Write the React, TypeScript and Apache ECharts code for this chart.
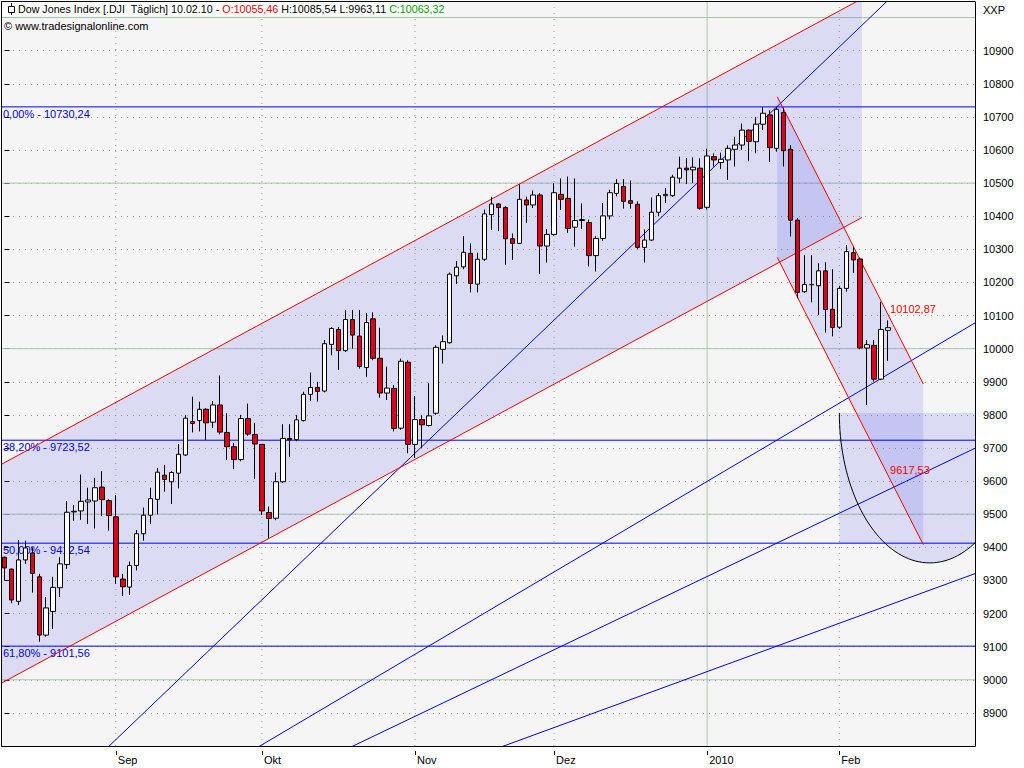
import React, { useEffect, useRef } from "react";
import * as echarts from "echarts";

// ---------- data (trading days, DJI daily candles) ----------
const dates = [
  "10.08.09","11.08.09","12.08.09","13.08.09","14.08.09","17.08.09","18.08.09","19.08.09","20.08.09","21.08.09",
  "24.08.09","25.08.09","26.08.09","27.08.09","28.08.09","31.08.09",
  "01.09.09","02.09.09","03.09.09","04.09.09","08.09.09","09.09.09","10.09.09","11.09.09","14.09.09","15.09.09",
  "16.09.09","17.09.09","18.09.09","21.09.09","22.09.09","23.09.09","24.09.09","25.09.09","28.09.09","29.09.09","30.09.09",
  "01.10.09","02.10.09","05.10.09","06.10.09","07.10.09","08.10.09","09.10.09","12.10.09","13.10.09","14.10.09",
  "15.10.09","16.10.09","19.10.09","20.10.09","21.10.09","22.10.09","23.10.09","26.10.09","27.10.09","28.10.09","29.10.09","30.10.09",
  "02.11.09","03.11.09","04.11.09","05.11.09","06.11.09","09.11.09","10.11.09","11.11.09","12.11.09","13.11.09",
  "16.11.09","17.11.09","18.11.09","19.11.09","20.11.09","23.11.09","24.11.09","25.11.09","27.11.09","30.11.09",
  "01.12.09","02.12.09","03.12.09","04.12.09","07.12.09","08.12.09","09.12.09","10.12.09","11.12.09","14.12.09",
  "15.12.09","16.12.09","17.12.09","18.12.09","21.12.09","22.12.09","23.12.09","24.12.09","28.12.09","29.12.09","30.12.09","31.12.09",
  "04.01.10","05.01.10","06.01.10","07.01.10","08.01.10","11.01.10","12.01.10","13.01.10","14.01.10","15.01.10",
  "19.01.10","20.01.10","21.01.10","22.01.10","25.01.10","26.01.10","27.01.10","28.01.10","29.01.10",
  "01.02.10","02.02.10","03.02.10","04.02.10","05.02.10","08.02.10","09.02.10","10.02.10"
];

const opens = [
  9370,9334,9237,9362,9383,9311,9135,9206,9278,9348,
  9507,9510,9537,9540,9582,9541,9492,9304,9280,9345,
  9441,9497,9545,9618,9598,9624,9679,9780,9783,9817,
  9778,9830,9747,9704,9665,9789,9741,9711,9505,9488,
  9598,9729,9725,9783,9862,9883,9872,10013,10058,9994,
  10088,10038,9943,10090,9971,9866,9880,9760,9959,9711,
  9786,9768,9805,9998,10018,10220,10247,10288,10195,10270,
  10405,10437,10426,10332,10318,10449,10434,10464,10310,10345,
  10466,10454,10367,10387,10381,10281,10333,10401,10469,10490,
  10447,10436,10306,10328,10412,10462,10462,10515,10545,10540,
  10545,10427,10580,10562,10570,10602,10615,10660,10625,10678,
  10706,10605,10713,10602,10388,10172,10194,10190,10235,10119,
  10065,10182,10290,10271,10002,10010,9908,10055.46
];

const closes = [
  9338,9241,9362,9398,9321,9135,9217,9279,9350,9506,
  9509,9539,9543,9580,9544,9496,9311,9281,9345,9441,
  9497,9547,9627,9605,9626,9681,9790,9774,9817,9776,
  9830,9748,9704,9665,9789,9742,9712,9510,9487,9598,
  9729,9725,9785,9862,9883,9871,10015,10061,9994,10088,
  10041,9946,10079,9971,9866,9881,9759,9962,9711,9786,
  9770,9797,10004,10021,10225,10246,10291,10197,10270,10407,
  10437,10426,10332,10318,10451,10434,10464,10310,10345,10471,
  10451,10363,10387,10390,10281,10333,10401,10471,10499,10445,
  10439,10306,10328,10412,10462,10466,10518,10545,10540,10548,
  10424,10582,10570,10572,10605,10615,10660,10626,10678,10711,
  10607,10723,10598,10388,10170,10194,10193,10235,10118,10064,
  10182,10293,10268,10002,10012,9908,10058,10063.32
];

const lows = [
  9300,9231,9226,9350,9263,9115,9130,9153,9250,9335,
  9480,9483,9470,9457,9494,9450,9290,9253,9256,9330,
  9420,9470,9500,9568,9531,9578,9676,9747,9750,9724,
  9760,9741,9664,9636,9660,9737,9606,9498,9427,9482,
  9595,9673,9720,9780,9842,9840,9868,9980,9936,9990,
  10000,9940,9914,9965,9852,9845,9750,9755,9684,9670,
  9700,9765,9800,9955,10015,10195,10240,10170,10170,10265,
  10358,10355,10253,10268,10316,10380,10425,10225,10260,10340,
  10419,10350,10308,10362,10248,10233,10325,10390,10460,10423,
  10423,10300,10260,10325,10400,10440,10458,10500,10497,10500,
  10420,10420,10550,10542,10510,10550,10600,10566,10590,10660,
  10564,10595,10550,10339,10152,10168,10140,10102,10048,10037,
  10060,10172,10229,9998,9830,9900,9905,9963.11
];

const highs = [
  9372,9336,9422,9420,9400,9320,9250,9311,9370,9540,
  9528,9620,9580,9610,9630,9545,9558,9320,9357,9452,
  9520,9580,9640,9649,9631,9712,9800,9855,9840,9820,
  9842,9919,9805,9715,9800,9834,9776,9712,9523,9626,
  9772,9772,9800,9870,9928,9900,10026,10065,10065,10117,
  10117,10117,10108,10110,10063,9946,9890,9970,9965,9857,
  9800,9897,10010,10040,10230,10265,10340,10318,10290,10420,
  10459,10440,10430,10348,10496,10459,10478,10470,10361,10500,
  10514,10520,10514,10439,10390,10340,10440,10480,10512,10512,
  10508,10445,10360,10457,10470,10485,10525,10580,10576,10578,
  10575,10604,10590,10592,10614,10640,10680,10662,10700,10730,
  10720,10730.24,10728,10615,10395,10283,10283,10258,10261,10240,
  10190,10313,10306,10275,10026,10026,10142,10085.54
];

const futureSlots = ["+1","+2","+3","+4","+5","+6","+7","+8","+9","+10","+11","+12"];

const monthTickDates = ["01.09.09", "01.10.09", "02.11.09", "01.12.09", "04.01.10", "01.02.10"];
const monthTickLabels = ["Sep", "Okt", "Nov", "Dez", "2010", "Feb"];
const solidMonthLabel = "2010";

const yMin = 8800;
const yMax = 11050;
const yStep = 100;
const yLabelMin = 8900;
const yLabelMax = 10900;
const majorGridLevels = [9000, 9500, 10000, 10500, 11000];

// Fibonacci retracement levels (from 10730,24 high)
const fibLevels = [10730.24, 9723.52, 9412.54, 9101.56];
const fibLabels = ["0,00% - 10730,24", "38,20% - 9723,52", "50,00% - 9412,54", "61,80% - 9101,56"];

// Fibonacci fan: origin (bar index, price) and anchor (bar index, price)
const fanOrigin = [-20, 8094.84];
const fanAnchor = [111, 10730.24];
const fanRatios = [1, 0.618, 0.5, 0.382];

// Trend channels, endpoints as [bar index, price]
const upChannelUpper = [[-0.5, 9650], [123.25, 11057]];
const upChannelLower = [[-0.5, 8989], [123.25, 10396]];
const downChannelUpper = [[111.08, 10760.9], [132.07, 9893.3]];
const downChannelLower = [[111.08, 10275.6], [132.07, 9408.0]];
const downChannelLabelIdx = 127;
const downChannelLabelValues = [10102.87, 9617.53];
const downChannelLabels = ["10102,87", "9617,53"];

// Projection box and arc
const projectionBox = { fromIdx: 120, toIdx: 140, top: 9806, bottom: 9412.54 };
const projectionArc = { cx: 133, cy: 9806, rx: 13, ry: 453 };

// ---------- style ----------
const FONT = "'Liberation Sans', Arial, Helvetica, sans-serif";
const PLOT_BG = "#f5f5f5";
const SHADE = "rgba(90,90,235,0.16)";
const RED = "#ff0000";
const BLUE = "#0000ff";
const CANDLE_RED = "#e0001b";
const GRID_SOLID = "#aec2ae";
const GRID_DOT = "#9a9a9a";
const GRID = { left: 1, top: 1, width: 974, height: 745 };

type Shape = {
  kind: "polygon" | "polyline" | "text";
  pts: number[][];
  fill?: string;
  stroke?: string;
  dash?: number[];
  text?: string;
  color?: string;
  dx?: number;
  dy?: number;
  valign?: string;
};

const fmt = (v: number) => v.toFixed(2).replace(".", ",");

function buildShapes() {
  const nBars = dates.length + futureSlots.length;
  const xLeft = -0.5;
  const xRight = nBars - 0.5;

  const grid: Shape[] = [];
  monthTickDates.forEach((d, i) => {
    const idx = dates.indexOf(d);
    const solid = monthTickLabels[i] === solidMonthLabel;
    grid.push({
      kind: "polyline",
      pts: [[idx, yMin], [idx, yMax]],
      stroke: solid ? GRID_SOLID : GRID_DOT,
      dash: solid ? undefined : [1, 5],
    });
  });
  majorGridLevels.forEach((v) => {
    grid.push({ kind: "polyline", pts: [[xLeft, v], [xRight, v]], stroke: GRID_SOLID });
  });

  const fills: Shape[] = [];
  fills.push({
    kind: "polygon",
    pts: [upChannelUpper[0], upChannelUpper[1], upChannelLower[1], upChannelLower[0]],
    fill: SHADE,
  });
  fills.push({
    kind: "polygon",
    pts: [downChannelUpper[0], downChannelUpper[1], downChannelLower[1], downChannelLower[0]],
    fill: SHADE,
  });
  // projection box united with the lower half of the ellipse
  const { cx, cy, rx, ry } = projectionArc;
  const sBottom = (projectionBox.bottom - cy) / ry;
  const tA = Math.PI + Math.asin(-sBottom);
  const tB = 2 * Math.PI - Math.asin(-sBottom);
  const proj: number[][] = [
    [projectionBox.fromIdx, projectionBox.top],
    [projectionBox.toIdx, projectionBox.top],
    [projectionBox.toIdx, projectionBox.bottom],
  ];
  const steps = 40;
  for (let k = 0; k <= steps; k++) {
    const t = tB - ((tB - tA) * k) / steps;
    proj.push([cx + rx * Math.cos(t), cy + ry * Math.sin(t)]);
  }
  proj.push([projectionBox.fromIdx, projectionBox.bottom]);
  fills.push({ kind: "polygon", pts: proj, fill: SHADE });

  const lines: Shape[] = [];
  fibLevels.forEach((v, i) => {
    lines.push({ kind: "polyline", pts: [[xLeft, v], [xRight, v]], stroke: BLUE });
    lines.push({ kind: "text", pts: [[xLeft, v]], text: fibLabels[i], color: BLUE, dx: 2, dy: 1.5, valign: "top" });
  });
  const mainSlope = (fanAnchor[1] - fanOrigin[1]) / (fanAnchor[0] - fanOrigin[0]);
  fanRatios.forEach((r) => {
    lines.push({
      kind: "polyline",
      pts: [fanOrigin, [xRight, fanOrigin[1] + r * mainSlope * (xRight - fanOrigin[0])]],
      stroke: BLUE,
    });
  });
  lines.push({ kind: "polyline", pts: upChannelUpper, stroke: RED });
  lines.push({ kind: "polyline", pts: upChannelLower, stroke: RED });
  lines.push({ kind: "polyline", pts: downChannelUpper, stroke: RED });
  lines.push({ kind: "polyline", pts: downChannelLower, stroke: RED });
  const arc: number[][] = [];
  for (let k = 0; k <= 80; k++) {
    const t = Math.PI + (Math.PI * k) / 80;
    arc.push([cx + rx * Math.cos(t), cy + ry * Math.sin(t)]);
  }
  lines.push({ kind: "polyline", pts: arc, stroke: "#000000" });

  const labels: Shape[] = downChannelLabelValues.map((v, i) => ({
    kind: "text",
    pts: [[downChannelLabelIdx, v]],
    text: downChannelLabels[i],
    color: RED,
    dx: 2,
    dy: 0,
    valign: "bottom",
  }));

  return { grid, fills, lines, labels, xLeft, xRight };
}

function renderShapes(list: Shape[]) {
  return (params: any, api: any) => {
    const s = list[params.dataIndex];
    if (s.kind === "text") {
      const p = api.coord(s.pts[0]);
      return {
        type: "text",
        x: p[0] + (s.dx || 0),
        y: p[1] + (s.dy || 0),
        style: {
          text: s.text,
          fill: s.color,
          font: `11px ${FONT}`,
          align: "left",
          verticalAlign: s.valign || "top",
        },
      };
    }
    const pts = s.pts.map((p) => api.coord(p));
    if (s.kind === "polygon") {
      return { type: "polygon", shape: { points: pts }, style: { fill: s.fill, stroke: null } };
    }
    return {
      type: "polyline",
      shape: { points: pts },
      style: { stroke: s.stroke, lineWidth: 1, fill: null, lineDash: s.dash || null },
    };
  };
}

function customSeries(list: Shape[], z: number) {
  return {
    type: "custom",
    xAxisIndex: 1,
    yAxisIndex: 0,
    z,
    clip: true,
    silent: true,
    renderItem: renderShapes(list),
    data: list.map(() => [0, 10000]),
  };
}

export default function App() {
  const ref = useRef<HTMLDivElement>(null);

  useEffect(() => {
    if (!ref.current) return;
    const chart = echarts.init(ref.current, undefined, { renderer: "svg" });
    const { grid, fills, lines, labels, xLeft, xRight } = buildShapes();
    const categories = [...dates, ...futureSlots];
    const tickMap: Record<string, string> = {};
    monthTickDates.forEach((d, i) => (tickMap[d] = monthTickLabels[i]));
    const showTick = (_i: number, v: string) => tickMap[v] !== undefined;

    const last = dates.length - 1;
    const headerText =
      `{k|Dow Jones Index [.DJI  Täglich] ${dates[last]} - }` +
      `{r|O:${fmt(opens[last])}}` +
      `{k| H:${fmt(highs[last])} L:${fmt(lows[last])} }` +
      `{g|C:${fmt(closes[last])}}`;

    const option: any = {
      animation: false,
      backgroundColor: "#ffffff",
      grid: {
        left: GRID.left,
        top: GRID.top,
        width: GRID.width,
        height: GRID.height,
        show: true,
        backgroundColor: PLOT_BG,
        borderWidth: 0,
      },
      xAxis: [
        {
          type: "category",
          data: categories,
          boundaryGap: true,
          position: "bottom",
          offset: 5,
          axisLine: { show: false },
          axisTick: {
            show: true,
            interval: showTick,
            alignWithLabel: true,
            length: 4,
            lineStyle: { color: "#000000" },
          },
          axisLabel: {
            interval: showTick,
            formatter: (v: string) => tickMap[v] || "",
            align: "left",
            padding: [0, 0, 0, 2],
            margin: 3,
            color: "#000000",
            fontSize: 11,
            fontFamily: FONT,
          },
          splitLine: { show: false },
        },
        {
          type: "value",
          min: xLeft,
          max: xRight,
          show: false,
          splitLine: { show: false },
        },
      ],
      yAxis: [
        {
          type: "value",
          position: "right",
          min: yMin,
          max: yMax,
          interval: yStep,
          axisLine: { show: false },
          axisTick: { show: true, length: 5, lineStyle: { color: "#000000" } },
          axisLabel: {
            margin: 8,
            color: "#000000",
            fontSize: 11,
            fontFamily: FONT,
            formatter: (v: number) =>
              v >= yLabelMin && v <= yLabelMax && v % yStep === 0 ? String(v) : "",
          },
          splitLine: { show: true, lineStyle: { color: GRID_DOT, type: [1, 5], width: 1 } },
        },
      ],
      series: [
        customSeries(grid, 1),
        customSeries(fills, 2),
        customSeries(lines, 3),
        {
          type: "candlestick",
          xAxisIndex: 0,
          yAxisIndex: 0,
          z: 4,
          silent: true,
          barWidth: 5,
          data: dates.map((_, i) => [opens[i], closes[i], lows[i], highs[i]]),
          itemStyle: {
            color: "#ffffff",
            color0: CANDLE_RED,
            borderColor: "#000000",
            borderColor0: "#000000",
            borderColorDoji: "#000000",
            borderWidth: 1,
          },
        },
        customSeries(labels, 5),
      ],
      graphic: [
        {
          type: "rect",
          z: 100,
          silent: true,
          shape: { x: GRID.left + 0.5, y: GRID.top + 0.5, width: GRID.width, height: GRID.height },
          style: { fill: null, stroke: "#000000", lineWidth: 1 },
        },
        {
          type: "rect",
          z: 99,
          silent: true,
          shape: { x: 2, y: 2, width: 446, height: 14 },
          style: { fill: "#ffffff" },
        },
        {
          type: "line",
          z: 100,
          silent: true,
          shape: { x1: 11.5, y1: 3, x2: 11.5, y2: 15 },
          style: { stroke: "#000000", lineWidth: 1 },
        },
        {
          type: "rect",
          z: 101,
          silent: true,
          shape: { x: 8.5, y: 6.5, width: 6, height: 6 },
          style: { fill: "#ffffff", stroke: "#000000", lineWidth: 1 },
        },
        {
          type: "text",
          z: 101,
          silent: true,
          x: 18,
          y: 9,
          style: {
            text: headerText,
            verticalAlign: "middle",
            font: `10.7px ${FONT}`,
            rich: {
              k: { fill: "#000000", fontSize: 10.7, fontFamily: FONT },
              r: { fill: "#ff0000", fontSize: 10.7, fontFamily: FONT },
              g: { fill: "#00a000", fontSize: 10.7, fontFamily: FONT },
            },
          },
        },
        {
          type: "text",
          z: 101,
          silent: true,
          x: 4,
          y: 26,
          style: {
            text: "© www.tradesignalonline.com",
            verticalAlign: "middle",
            fill: "#000000",
            font: `11px ${FONT}`,
          },
        },
        {
          type: "text",
          z: 101,
          silent: true,
          x: 983,
          y: 10,
          style: { text: "XXP", verticalAlign: "middle", fill: "#000000", font: `11px ${FONT}` },
        },
      ],
    };

    chart.setOption(option);
    return () => chart.dispose();
  }, []);

  return (
    <div
      ref={ref}
      style={{ position: "fixed", left: 0, top: 0, width: 1024, height: 768, background: "#ffffff" }}
    />
  );
}
